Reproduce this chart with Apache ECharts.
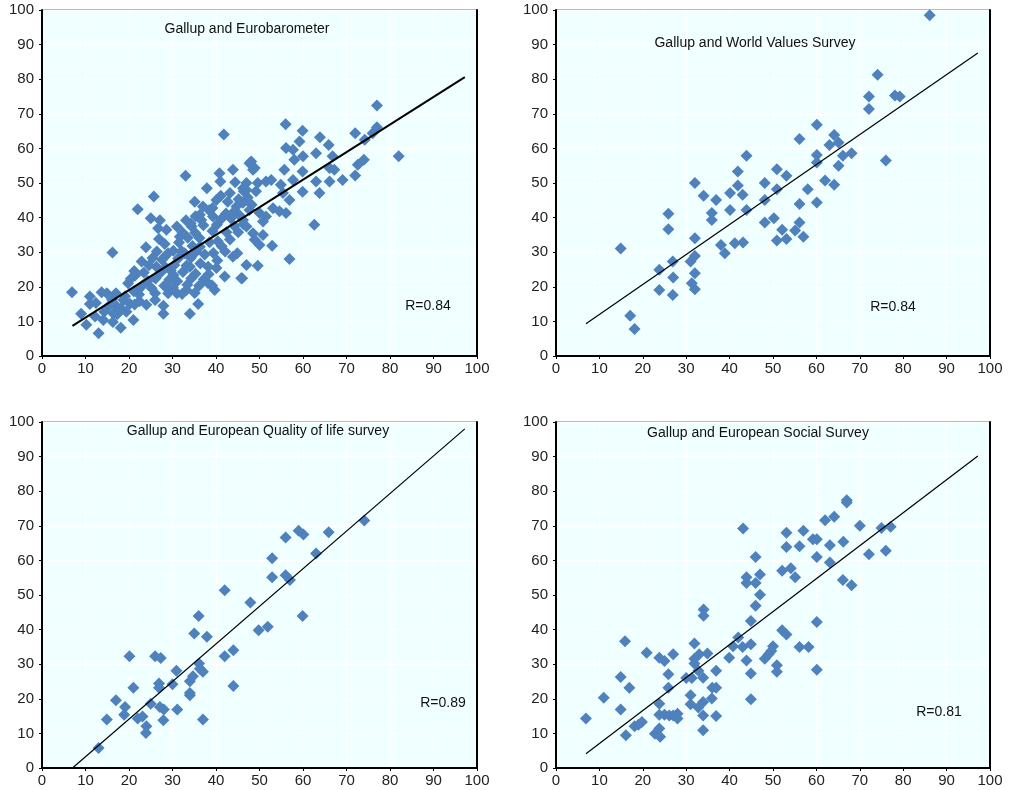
<!DOCTYPE html>
<html><head><meta charset="utf-8">
<script src="https://cdn.jsdelivr.net/npm/echarts@6/dist/echarts.min.js"></script>
<style>html,body{margin:0;padding:0;background:#fff}#c{width:1011px;height:790px}</style>
</head><body><div id="c"></div>
<script>
const axisMin = 0, axisMax = 100, axisStep = 10;
const panelTitles = ['Gallup and Eurobarometer', 'Gallup and World Values Survey', 'Gallup and European Quality of life survey', 'Gallup and European Social Survey'];
const rLabels = ['R=0.84', 'R=0.84', 'R=0.89', 'R=0.81'];

const euroPoints = [
[6.9,18.4],[9.0,12.2],[10.2,9.0],[11.0,17.2],[11.0,15.0],[12.2,11.4],[13.0,6.6],[13.7,18.4],[14.1,10.4],[14.9,18.1],[16.2,29.9],[16.4,12.3],[17.0,18.1],[17.2,14.3],[18.1,8.2],[18.7,16.2],[19.8,21.0],[21.0,10.4],[21.3,14.9],[21.4,23.3],[22.0,42.4],[22.1,19.1],[22.9,27.3],[23.9,31.4],[24.0,14.8],[25.0,39.8],[25.7,46.1],[26.0,18.1],[26.0,16.2],[26.3,25.8],[26.7,36.9],[27.1,39.2],[26.9,33.8],[27.9,14.5],[27.9,12.2],[28.2,28.7],[28.6,36.5],[29.0,29.7],[29.0,18.1],[30.2,23.4],[31.0,37.4],[31.0,18.1],[31.7,34.5],[33.0,52.1],[32.8,29.7],[33.2,19.1],[34.0,12.2],[34.0,25.8],[34.4,37.4],[35.1,44.6],[35.9,15.0],[36.3,31.6],[36.6,39.3],[37.0,43.2],[37.9,48.5],[38.2,21.0],[38.2,25.8],[39.3,40.3],[39.7,19.1],[40.1,45.1],[40.1,25.4],[40.8,52.8],[41.0,50.4],[41.8,64.0],[42.0,23.0],[42.7,44.6],[43.9,53.8],[43.9,28.7],[44.7,43.2],[44.9,29.7],[46.0,22.5],[47.0,26.3],[46.2,48.5],[47.0,50.0],[48.1,56.2],[48.5,35.5],[48.9,54.3],
[20.4,22.3],[21.2,24.6],[22.3,17.8],[23.1,20.4],[23.4,24.1],[24.3,21.7],[24.6,26.2],[25.2,19.6],[25.4,28.3],[26.1,22.4],[26.4,30.2],[27.3,24.1],[27.6,27.8],[28.1,20.3],[28.4,25.6],[28.2,32.4],[29.3,22.1],[29.6,24.7],[30.1,19.7],[30.4,26.3],[30.2,30.4],[31.1,21.6],[31.3,28.2],[31.5,32.8],[32.2,17.9],[32.4,24.3],[32.1,30.3],[32.3,35.7],[33.4,20.6],[33.2,26.1],[33.5,34.2],[34.3,22.4],[34.2,28.3],[34.6,31.8],[35.1,18.2],[35.3,23.8],[35.4,30.1],[35.2,35.6],[36.1,20.3],[36.4,26.7],[36.2,34.1],[37.2,22.2],[37.4,29.3],[37.1,37.8],[38.3,23.6],[38.5,32.9],[39.1,20.4],[39.4,29.8],[39.2,36.1],[40.3,27.6],[40.4,33.2],[40.2,37.9],[41.3,31.7],[41.2,39.6],[42.1,30.2],[42.4,35.8],[43.2,33.7],[43.4,39.8],[44.2,37.6],[44.3,41.9],[45.1,35.8],[45.4,40.7],[46.3,38.1],[46.2,44.3],[16.1,16.3],[17.3,12.1],[18.2,13.8],[19.1,17.3],[19.4,12.8],[20.2,15.1],[21.1,18.7],[22.4,15.8],[15.2,14.2],[14.3,12.8],[12.4,15.3],[16.3,9.8],[42.3,41.2],[43.2,47.1],[44.4,50.2],[45.2,45.3],[46.4,47.6],[47.3,45.8],[48.2,43.7],[49.2,47.6],[41.1,46.3],[39.2,42.8],[38.4,42.1],[36.3,40.8],[34.2,38.3],[33.1,39.2],[35.3,40.4],
[56.0,67.0],[59.9,65.1],[59.2,62.0],[63.9,63.2],[65.9,61.0],[72.0,64.4],[74.2,62.5],[77.0,72.4],[77.0,66.1],[76.0,64.4],[82.0,57.7],[56.1,60.1],[57.7,59.6],[58.0,56.7],[60.0,57.7],[63.0,58.6],[66.8,57.7],[74.0,56.7],[72.6,55.3],[72.0,52.2],[69.1,50.9],[66.1,50.4],[67.2,53.8],[66.1,54.3],[63.0,50.4],[63.8,47.1],[59.9,47.5],[59.9,53.3],[57.7,50.9],[55.7,53.8],[54.9,49.5],[52.7,50.9],[51.5,50.4],[49.6,50.0],[47.7,55.7],[48.5,53.8],[47.0,48.0],[56.9,45.1],[55.4,47.1],[53.1,42.7],[54.6,41.8],[56.1,41.3],[51.5,40.3],[50.0,41.3],[47.7,42.2],[46.2,39.3],[50.8,38.9],[47.0,37.4],[62.6,37.9],[50.8,35.0],[48.9,33.6],[50.0,32.1],[52.9,31.9],[56.9,28.0],[49.6,26.1],[45.8,22.5]
];
const wvsPoints = [
[14.9,31.1],[17.1,11.6],[18.1,7.8],[23.8,24.9],[23.8,19.1],[25.9,41.1],[25.9,36.6],[26.9,27.3],[27.0,22.7],[26.9,17.6],[31.0,27.3],[31.3,21.0],[32.0,19.3],[32.0,23.9],[32.0,28.9],[32.0,34.0],[32.0,50.0],[34.0,46.3],[35.9,39.3],[35.9,41.3],[36.9,45.1],[38.0,32.1],[38.9,29.7],[40.1,47.1],[40.1,42.2],[41.2,32.6],[41.9,53.3],[41.9,49.3],[43.0,46.6],[43.1,32.8],[43.9,57.9],[43.9,42.2],[48.1,50.0],[48.1,45.1],[48.1,38.6],
[50.2,39.8],[50.9,54.0],[50.9,48.2],[50.9,33.4],[52.1,36.5],[53.1,52.1],[53.1,33.8],[55.1,36.3],[56.1,38.6],[56.1,43.9],[56.1,62.7],[57.0,34.5],[58.0,48.2],[60.1,66.8],[60.1,58.1],[60.1,55.9],[60.1,44.4],[62.0,50.7],[63.0,61.0],[64.1,63.9],[64.1,49.5],[65.1,61.7],[65.1,55.0],[66.1,57.9],[68.1,58.6],[72.1,75.0],[72.1,71.4],[74.1,81.3],[76.0,56.5],[78.1,75.3],[79.2,75.0],[86.1,98.5]
];
const eqlsPoints = [
[13.0,5.8],[14.9,14.0],[17.0,19.6],[19.1,17.6],[18.9,15.4],[20.1,32.3],[21.0,23.2],[22.0,14.3],[23.1,14.9],[24.0,12.1],[23.9,10.1],[25.0,18.6],[26.0,32.3],[27.3,31.8],[26.9,24.4],[26.9,23.2],[27.1,17.6],[28.0,16.9],[27.9,13.8],[30.0,24.2],[30.9,28.1],[31.1,16.9],[34.0,21.7],[34.0,21.0],[34.0,25.1],[34.7,26.5],[35.0,38.9],[36.0,43.9],[36.1,30.2],[37.0,27.8],[36.3,28.7],[37.0,14.0],[37.9,37.9],[42.0,51.4],[42.0,32.3],[44.0,34.0],[44.0,23.7],[47.9,47.8],[49.8,39.8],
[51.9,40.8],[52.9,60.6],[52.9,55.1],[56.0,66.6],[56.0,55.7],[57.0,54.3],[59.0,68.6],[60.1,67.5],[59.9,43.9],[63.0,62.0],[65.9,68.1],[74.1,71.5]
];
const essPoints = [
[6.9,14.3],[11.0,20.3],[14.9,26.3],[14.9,16.9],[15.9,36.6],[16.1,9.5],[16.9,23.2],[18.1,12.1],[19.0,12.5],[19.8,13.3],[20.9,33.3],[22.8,9.9],[23.8,11.4],[24.0,9.0],[23.8,18.6],[23.8,31.9],[25.0,30.9],[23.8,15.4],[25.0,15.4],[26.1,15.2],[25.9,23.2],[25.9,27.1],[27.0,32.9],[27.0,15.2],[28.0,14.3],[28.0,15.7],[30.0,26.0],[31.0,21.0],[31.0,18.4],[31.3,26.0],[31.9,36.0],[31.9,30.2],[31.9,31.6],[33.0,32.9],[32.8,28.1],[32.8,17.5],[33.9,15.2],[33.9,10.9],[33.9,19.1],[33.9,26.1],[34.0,45.8],[34.0,44.0],[34.9,33.1],[35.9,20.1],[36.0,23.2],[36.9,28.1],[36.9,23.2],[36.9,15.0],[39.9,31.9],[40.8,35.2],[42.0,37.7],[43.1,69.2],[43.0,35.0],[43.9,55.1],[43.9,53.5],[43.9,31.1],[44.9,42.5],[44.9,27.3],[44.9,19.9],[44.9,35.8],[46.0,61.0],[46.0,53.5],[46.0,46.9],[47.0,55.9],[47.0,50.1],[48.1,31.6],
[50.0,35.2],[49.6,33.8],[49.0,32.9],[50.9,29.7],[50.9,27.8],[52.1,57.0],[52.1,39.8],[53.1,68.0],[53.1,63.9],[53.1,38.6],[54.1,57.7],[55.1,55.1],[56.1,64.1],[56.1,35.0],[57.0,68.6],[58.2,35.0],[59.2,66.1],[60.1,66.1],[60.1,61.0],[60.1,42.2],[60.1,28.4],[62.0,71.6],[63.1,64.4],[63.1,59.4],[64.1,72.6],[66.2,65.4],[66.1,54.3],[67.0,77.4],[67.0,76.7],[68.1,52.8],[70.0,70.0],[72.1,61.8],[75.0,69.4],[76.0,62.8],[77.1,69.7]
];
const fitLines = [
  [[7, 8.7], [97.2, 80.6]],
  [[6.9, 9.3], [97.2, 87.6]],
  [[7, 0], [97.2, 98.0]],
  [[6.9, 4.1], [97.2, 90.2]]
];
const allPoints = [euroPoints, wvsPoints, eqlsPoints, essPoints];

const grids = [
  {left: 42, top: 10, width: 435, height: 346},
  {left: 556, top: 10, width: 434, height: 346},
  {left: 42, top: 422, width: 435, height: 346},
  {left: 556, top: 422, width: 434, height: 346}
];
const titlePos = [[247, 29], [755, 43], [258, 431], [758, 433]];
const rPos = [[428, 306], [893, 307], [443, 703], [939, 712]];
const lineWidths = [2, 1.2, 1.2, 1.2];

const FONT = '"Liberation Sans", Arial, sans-serif';
const chart = echarts.init(document.getElementById('c'), null, {renderer: 'canvas'});

function axis(i, type) {
  return {
    type: 'value', gridIndex: i, min: axisMin, max: axisMax, interval: axisStep,
    axisLine: {show: true, onZero: false, lineStyle: {color: '#000', width: 2}},
    axisTick: {show: true, length: 3, lineStyle: {color: '#000', width: 1}},
    axisLabel: {color: '#222', fontSize: 15, fontFamily: FONT, margin: type === 'x' ? 5 : 8},
    splitLine: {show: true, lineStyle: {color: '#ffffff', width: 1}}
  };
}
function rightBorder(i) {
  return {
    type: 'value', gridIndex: i, min: axisMin, max: axisMax, interval: axisStep, position: 'right',
    axisLine: {show: true, onZero: false, lineStyle: {color: '#000', width: 2}},
    axisTick: {show: false}, axisLabel: {show: false}, splitLine: {show: false}
  };
}

const option = {
  animation: false,
  grid: grids.map(g => Object.assign({show: true, backgroundColor: '#F0FFFF', borderColor: '#777', borderWidth: 1}, g)),
  xAxis: grids.map((g, i) => axis(i, 'x')),
  yAxis: grids.map((g, i) => axis(i, 'y')).concat(grids.map((g, i) => rightBorder(i))),
  series: [],
  graphic: []
};
allPoints.forEach((pts, i) => {
  option.series.push({
    type: 'scatter', xAxisIndex: i, yAxisIndex: i, data: pts,
    symbol: 'diamond', symbolSize: 12,
    itemStyle: {color: '#4F81BD', opacity: 1}, z: 2
  });
  option.series.push({
    type: 'line', xAxisIndex: i, yAxisIndex: i, data: fitLines[i],
    symbol: 'none', lineStyle: {color: '#000', width: lineWidths[i]}, z: 3, silent: true
  });
  option.graphic.push({
    type: 'text', x: titlePos[i][0], y: titlePos[i][1], z: 10,
    style: {text: panelTitles[i], fill: '#111', font: '14px ' + FONT, textAlign: 'center', textVerticalAlign: 'middle'}
  });
  option.graphic.push({
    type: 'text', x: rPos[i][0], y: rPos[i][1], z: 10,
    style: {text: rLabels[i], fill: '#111', font: '14px ' + FONT, textAlign: 'center', textVerticalAlign: 'middle'}
  });
});
chart.setOption(option);
</script>
</body></html>
